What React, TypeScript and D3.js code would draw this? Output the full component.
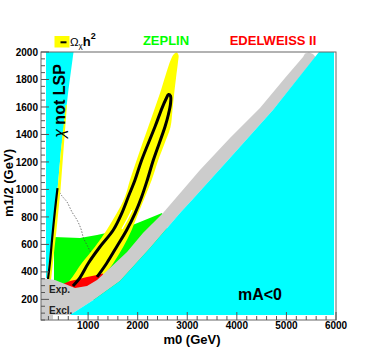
import React from "react";
import * as d3 from "d3";

type P = [number, number];

// m0 (GeV), m1/2 (GeV)
const cyanLeft: P[] = [[151, 2000], [706, 2000], [605, 1729], [534, 1505], [453, 1287], [383, 996], [292, 705], [211, 472], [171, 356], [151, 356]];
const yellowLeft: P[] = [[574, 1614], [504, 1287], [443, 996], [363, 705], [292, 472], [252, 341], [171, 341], [211, 472], [292, 705], [383, 996], [453, 1287], [547, 1614]];
const blackLeft: P[] = [[383, 1010], [332, 850], [272, 632], [232, 472], [191, 348]];
const dashedLine: P[] = [[393, 996], [474, 952], [574, 909], [675, 836], [776, 778], [857, 712], [907, 647], [998, 581], [1069, 523], [1089, 465], [1119, 399]];
const zeplin: P[] = [[312, 654], [837, 647], [1180, 668], [1643, 705], [2047, 763], [2491, 829], [2652, 632], [1240, 196], [312, 196]];
const edelweiss: P[] = [[514, 316], [635, 334], [776, 345], [978, 363], [1180, 377], [1301, 388], [1301, 254], [514, 254]];
const relicBand: P[] = [[353, 290], [568, 317], [871, 463], [1139, 583], [1375, 705], [1577, 826], [1744, 947], [1845, 1069], [1980, 1215], [2214, 1456], [2450, 1700], [2666, 1942], [2733, 1985], [2783, 1996], [2823, 1978], [2813, 1927], [2773, 1811], [2733, 1687], [2702, 1578], [2662, 1454], [2531, 1323], [2416, 1214], [2283, 1069], [2148, 947], [2013, 826], [1879, 705], [1710, 583], [1508, 463], [1280, 348], [1139, 268], [433, 254]];
const relicContour: P[] = [[695, 297], [837, 359], [1004, 463], [1240, 583], [1508, 705], [1678, 826], [1811, 947], [1946, 1069], [2081, 1214], [2349, 1456], [2491, 1592], [2571, 1658], [2622, 1691], [2662, 1680], [2662, 1622], [2622, 1549], [2551, 1456], [2316, 1214], [2194, 1069], [2081, 947], [1946, 826], [1779, 705], [1577, 583], [1375, 463], [1180, 363]];
const whiteGap: P[] = [[1684, 712], [1805, 792], [1886, 850]];
const grayUpper: P[] = [[50, 356], [332, 341], [534, 312], [736, 283], [978, 297], [1180, 341], [1442, 428], [1785, 545], [2107, 683], [2511, 829], [3257, 1141], [3862, 1374], [4467, 1593], [4971, 1811], [5335, 1964], [5375, 1989], [5456, 1996], [5536, 1985], [5587, 1964]];
const mAEdge: P[] = [[5657, 2000], [4729, 1578], [3862, 1229], [3096, 923], [2854, 829], [2249, 574], [1643, 334], [1139, 203], [635, 86]];
const grayBottom: P[] = [[292, 86], [292, 54], [50, 54]];
const cyanRightCorners: P[] = [[5960, 86], [5960, 2000]];

const xMajor = [1000, 2000, 3000, 4000, 5000, 6000];
const yMajor = [200, 400, 600, 800, 1000, 1200, 1400, 1600, 1800, 2000];
const xMinor = d3.range(200, 6001, 200).filter((v) => v % 1000 !== 0);
const yMinor = d3.range(50, 2001, 50).filter((v) => v % 200 !== 0);

const W = 374, H = 354;
const L = 41, R = 336, T = 52, B = 320;
const FONT = "'Liberation Sans', Arial, Helvetica, sans-serif";

export default function App() {
  const x = d3.scaleLinear().domain([50, 6000]).range([L, R]);
  const y = d3.scaleLinear().domain([50, 2000]).range([B, T]);
  const poly = d3.line<P>().x((d) => x(d[0])).y((d) => y(d[1]));
  const smooth = d3.line<P>().x((d) => x(d[0])).y((d) => y(d[1])).curve(d3.curveCatmullRom.alpha(0.5));
  const smoothClosed = d3.line<P>().x((d) => x(d[0])).y((d) => y(d[1])).curve(d3.curveCatmullRomClosed.alpha(0.5));

  const grayPoly: P[] = [...grayUpper, ...mAEdge.slice(1), ...grayBottom];
  const cyanRight: P[] = [...mAEdge, ...cyanRightCorners];

  return (
    <svg width={W} height={H} style={{ position: "absolute", left: 0, top: 0, display: "block", background: "#fff" }} fontFamily={FONT}>
      <defs>
        <clipPath id="plotclip">
          <rect x={L} y={T} width={R - L} height={B - T} />
        </clipPath>
      </defs>
      <g clipPath="url(#plotclip)">
        <path d={poly(cyanLeft) + "Z"} fill="#00ffff" />
        <path d={poly(zeplin) + "Z"} fill="#00ff00" />
        <path d={smooth(dashedLine) || ""} fill="none" stroke="#444" strokeWidth={0.7} strokeDasharray="1.5,1.5" />
        <path d={smoothClosed(relicBand) || ""} fill="#ffff00" />
        <path d={poly(yellowLeft) + "Z"} fill="#ffff00" />
        <path d={poly(edelweiss) + "Z"} fill="#ff0000" />
        <path d={smooth(relicContour) || ""} fill="none" stroke="#000" strokeWidth={3} strokeLinejoin="round" />
        <path d={smooth(blackLeft) || ""} fill="none" stroke="#000" strokeWidth={2.2} />
        <path d={smooth(whiteGap) || ""} fill="none" stroke="#fff" strokeWidth={1.3} />
        <path d={poly(grayPoly) + "Z"} fill="#cccccc" />
        <path d={poly(cyanRight) + "Z"} fill="#00ffff" />
      </g>
      {/* frame */}
      <rect x={L} y={T} width={R - L} height={B - T} fill="none" stroke="#666" strokeWidth={1} />
      {/* ticks */}
      {yMajor.map((v) => (
        <line key={"ym" + v} x1={L} x2={L + 8} y1={y(v)} y2={y(v)} stroke="#555" strokeWidth={1} />
      ))}
      {yMinor.map((v) => (
        <line key={"yn" + v} x1={L} x2={L + 4} y1={y(v)} y2={y(v)} stroke="#555" strokeWidth={1} />
      ))}
      {xMajor.map((v) => (
        <line key={"xm" + v} x1={x(v)} x2={x(v)} y1={B} y2={B - 8} stroke="#555" strokeWidth={1} />
      ))}
      {xMinor.map((v) => (
        <line key={"xn" + v} x1={x(v)} x2={x(v)} y1={B} y2={B - 4} stroke="#555" strokeWidth={1} />
      ))}
      {yMajor.map((v) => (
        <text key={"yl" + v} x={L - 3} y={y(v) + 3.6} textAnchor="end" fontSize={10} fontWeight="bold" fill="#000">{v}</text>
      ))}
      {xMajor.map((v) => (
        <text key={"xl" + v} x={x(v)} y={329} textAnchor="middle" fontSize={10} fontWeight="bold" fill="#000">{v}</text>
      ))}
      {/* axis titles */}
      <text x={192} y={344} textAnchor="middle" fontSize={13} fontWeight="bold">m0 (GeV)</text>
      <text transform="translate(13,183) rotate(-90)" textAnchor="middle" fontSize={13} fontWeight="bold">m1/2 (GeV)</text>
      {/* legend */}
      <rect x={54.5} y={36} width={15} height={11.5} fill="#ffff00" />
      <line x1={60.5} x2={66.5} y1={42.3} y2={42.3} stroke="#000" strokeWidth={2} />
      <text x={70} y={45.5} fontSize={11.5}>
        Ω<tspan fontSize={8} dy={2.5}>χ</tspan>
        <tspan fontSize={13} fontWeight="bold" dy={-2.5}>h</tspan>
        <tspan fontSize={9} fontWeight="bold" dy={-7}>2</tspan>
      </text>
      <text x={166} y={44.5} textAnchor="middle" fontSize={13} fontWeight="bold" fill="#00ff00">ZEPLIN</text>
      <text x={273} y={44.5} textAnchor="middle" fontSize={13} fontWeight="bold" fill="#ff0000">EDELWEISS II</text>
      {/* labels in plot */}
      <text transform="translate(65,101) rotate(-90)" textAnchor="middle" fontSize={16} fontWeight="bold">
        <tspan fontStyle="italic" fontWeight="normal">χ</tspan> not LSP
      </text>
      <text x={49} y={292.5} fontSize={10} fontWeight="bold" fill="#222">Exp.</text>
      <text x={49} y={314} fontSize={10} fontWeight="bold" fill="#222">Excl.</text>
      <text x={260} y={299.5} textAnchor="middle" fontSize={16} fontWeight="bold">mA&lt;0</text>
    </svg>
  );
}
